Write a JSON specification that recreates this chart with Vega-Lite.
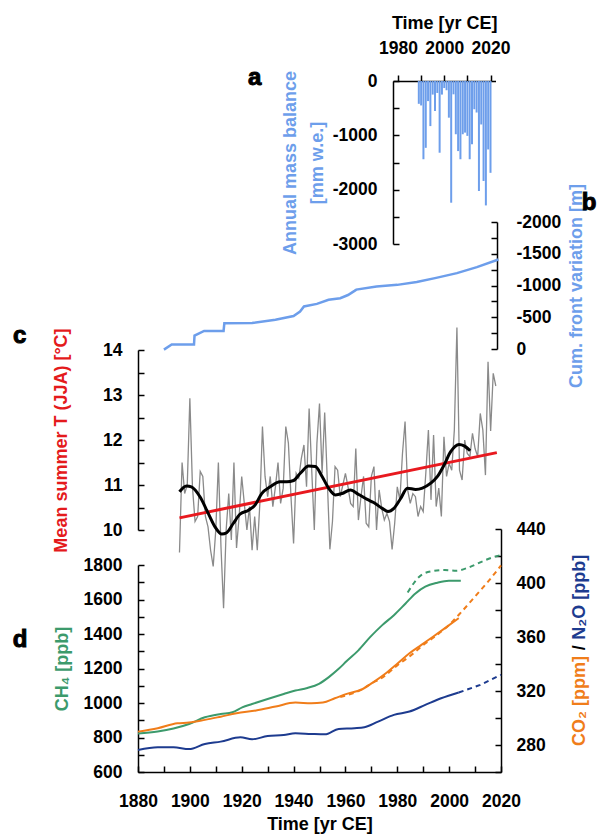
{
  "$schema": "https://vega.github.io/schema/vega-lite/v6.json",
  "width": 363,
  "height": 691,
  "autosize": {"type": "none"},
  "padding": {"left": 138, "top": 81, "right": 115, "bottom": 65},
  "background": "white",
  "config": {
    "view": {"stroke": null},
    "axis": {
      "labelFont": "Liberation Sans", "labelFontWeight": "bold", "labelFontSize": 17.5, "labelColor": "#000",
      "titleFont": "Liberation Sans", "titleFontWeight": "bold", "titleFontSize": 18, "titleColor": "#000",
      "domainColor": "#000", "domainWidth": 1.5, "zindex": 1,
      "grid": false, "labelOverlap": false, "labelFlush": false, "labelBound": false
    },
    "text": {"font": "Liberation Sans", "fontWeight": "bold"}
  },
  "resolve": {"scale": {"x": "independent", "y": "independent"}, "axis": {"x": "independent", "y": "independent"}},
  "layer": [
    {
      "encoding": {
        "x": {"field": "year", "type": "quantitative",
          "scale": {"domain": [1980, 2020], "range": [255, 357.5], "nice": false, "zero": false},
          "axis": {"orient": "top", "title": "Time [yr CE]", "values": [1980, 1990, 2000, 2010, 2020],
            "labelExpr": "datum.value % 20 === 0 ? '' + datum.value : ''",
            "tickSize": 6, "tickColor": "#000", "tickWidth": 1.5, "labelPadding": 18, "titlePadding": 7}},
        "y": {"field": "mb", "type": "quantitative",
          "scale": {"domain": [-3000, 0], "range": [163, 0], "nice": false, "zero": false},
          "axis": {"orient": "left", "offset": -255, "title": ["Annual mass balance", "[mm w.e.]"], "titleColor": "#6d9eeb",
            "titleLineHeight": 27, "values": [-3000, -2500, -2000, -1500, -1000, -500, 0],
            "labelExpr": "datum.value % 1000 === 0 ? (datum.value < 0 ? '-' + (-datum.value) : '0') : ''",
            "tickSize": -6, "tickColor": "#000", "tickWidth": 1.5, "labelPadding": 22, "titlePadding": 6}}
      },
      "layer": [
        {
          "data": {"values": [
            {"year": 1989, "mb": -420}, {"year": 1990, "mb": -450}, {"year": 1991, "mb": -1440}, {"year": 1992, "mb": -1230},
            {"year": 1993, "mb": -370}, {"year": 1994, "mb": -830}, {"year": 1995, "mb": -250}, {"year": 1996, "mb": -550},
            {"year": 1997, "mb": -220}, {"year": 1998, "mb": -1320}, {"year": 1999, "mb": -250}, {"year": 2000, "mb": -130},
            {"year": 2001, "mb": -170}, {"year": 2002, "mb": -675}, {"year": 2003, "mb": -2240}, {"year": 2004, "mb": -245},
            {"year": 2005, "mb": -980}, {"year": 2006, "mb": -1290}, {"year": 2007, "mb": -1440}, {"year": 2008, "mb": -980},
            {"year": 2009, "mb": -950}, {"year": 2010, "mb": -1010}, {"year": 2011, "mb": -1440}, {"year": 2012, "mb": -1165},
            {"year": 2013, "mb": -520}, {"year": 2014, "mb": -580}, {"year": 2015, "mb": -2025}, {"year": 2016, "mb": -800},
            {"year": 2017, "mb": -1840}, {"year": 2018, "mb": -2290}, {"year": 2019, "mb": -1260}, {"year": 2020, "mb": -1690}
          ]},
          "mark": {"type": "bar", "size": 2, "color": "#6d9eeb"},
          "encoding": {"y2": {"datum": 0}}
        },
        {
          "data": {"values": [{"year": 1918, "mb": 55, "lab": "a"}]},
          "mark": {"type": "text", "fontSize": 24, "color": "#000", "stroke": "#000", "strokeWidth": 1, "baseline": "middle", "align": "center"},
          "encoding": {"text": {"field": "lab"}}
        }
      ]
    },
    {
      "encoding": {
        "x": {"field": "year", "type": "quantitative",
          "scale": {"domain": [1880, 2020], "range": [0, 363], "nice": false, "zero": false}, "axis": null},
        "y": {"field": "v", "type": "quantitative",
          "scale": {"domain": [-2000, 0], "range": [141, 268], "nice": false, "zero": false},
          "axis": {"orient": "right", "offset": -4, "title": "Cum. front variation [m]", "titleColor": "#6d9eeb",
            "titleAngle": 270, "titleBaseline": "top",
            "values": [-2000, -1750, -1500, -1250, -1000, -750, -500, -250, 0],
            "labelExpr": "datum.value % 500 === 0 ? (datum.value < 0 ? '-' + (-datum.value) : '0') : ''",
            "tickSize": -6, "tickColor": "#000", "tickWidth": 1.5, "labelPadding": 25, "titlePadding": 7}}
      },
      "layer": [
        {
          "data": {"values": [
            {"year": 1890, "v": 10}, {"year": 1893, "v": -70}, {"year": 1901.6, "v": -70}, {"year": 1901.8, "v": -210},
            {"year": 1905.5, "v": -285}, {"year": 1913, "v": -285}, {"year": 1913.3, "v": -405}, {"year": 1924, "v": -410},
            {"year": 1933, "v": -460}, {"year": 1940, "v": -520}, {"year": 1942.5, "v": -590}, {"year": 1944, "v": -670},
            {"year": 1949, "v": -710}, {"year": 1953.5, "v": -775}, {"year": 1958, "v": -800}, {"year": 1961, "v": -850},
            {"year": 1963.5, "v": -915}, {"year": 1964.2, "v": -935}, {"year": 1972, "v": -985}, {"year": 1980, "v": -1010},
            {"year": 1987.5, "v": -1055}, {"year": 1995, "v": -1120}, {"year": 2003, "v": -1195}, {"year": 2010.7, "v": -1290},
            {"year": 2019, "v": -1410}
          ]},
          "mark": {"type": "line", "color": "#6d9eeb", "strokeWidth": 2.5}
        },
        {
          "data": {"values": [{"year": 2054, "v": -2300, "lab": "b"}]},
          "mark": {"type": "text", "fontSize": 24, "color": "#000", "stroke": "#000", "strokeWidth": 1, "baseline": "middle", "align": "center"},
          "encoding": {"text": {"field": "lab"}}
        }
      ]
    },
    {
      "encoding": {
        "x": {"field": "year", "type": "quantitative",
          "scale": {"domain": [1880, 2020], "range": [0, 363], "nice": false, "zero": false}, "axis": null},
        "y": {"field": "T", "type": "quantitative",
          "scale": {"domain": [10, 14], "range": [449, 269], "nice": false, "zero": false},
          "axis": {"orient": "left", "title": "Mean summer T (JJA) [°C]", "titleColor": "#e41a1c",
            "values": [10, 10.5, 11, 11.5, 12, 12.5, 13, 13.5, 14],
            "labelExpr": "datum.value % 1 === 0 ? '' + datum.value : ''",
            "tickSize": -6, "tickColor": "#000", "tickWidth": 1.5, "labelPadding": 22, "titlePadding": 32}}
      },
      "layer": [
        {
          "data": {"values": [
            {"year": 1896, "T": 9.5}, {"year": 1897, "T": 11.5}, {"year": 1898, "T": 10.81}, {"year": 1899, "T": 11.0},
            {"year": 1900, "T": 12.93}, {"year": 1901, "T": 10.96}, {"year": 1902, "T": 10.19}, {"year": 1903, "T": 10.3},
            {"year": 1904, "T": 11.3}, {"year": 1905, "T": 11.19}, {"year": 1906, "T": 10.3}, {"year": 1907, "T": 10.07},
            {"year": 1908, "T": 9.55}, {"year": 1909, "T": 9.19}, {"year": 1910, "T": 10.0}, {"year": 1911, "T": 11.5},
            {"year": 1912, "T": 9.63}, {"year": 1913, "T": 8.26}, {"year": 1914, "T": 10.0}, {"year": 1915, "T": 10.81},
            {"year": 1916, "T": 9.78}, {"year": 1917, "T": 11.5}, {"year": 1918, "T": 9.6}, {"year": 1919, "T": 10.3},
            {"year": 1920, "T": 11.19}, {"year": 1921, "T": 10.59}, {"year": 1922, "T": 10.0}, {"year": 1923, "T": 10.52},
            {"year": 1924, "T": 9.55}, {"year": 1925, "T": 10.3}, {"year": 1926, "T": 9.55}, {"year": 1927, "T": 10.59},
            {"year": 1928, "T": 12.3}, {"year": 1929, "T": 11.19}, {"year": 1930, "T": 10.74}, {"year": 1931, "T": 11.19},
            {"year": 1932, "T": 10.52}, {"year": 1933, "T": 10.96}, {"year": 1934, "T": 11.5}, {"year": 1935, "T": 10.59},
            {"year": 1936, "T": 10.93}, {"year": 1937, "T": 12.3}, {"year": 1938, "T": 11.93}, {"year": 1939, "T": 10.74},
            {"year": 1940, "T": 9.7}, {"year": 1941, "T": 11.26}, {"year": 1942, "T": 11.15}, {"year": 1943, "T": 11.59},
            {"year": 1944, "T": 11.89}, {"year": 1945, "T": 10.96}, {"year": 1946, "T": 12.7}, {"year": 1947, "T": 11.33},
            {"year": 1948, "T": 10.0}, {"year": 1949, "T": 11.93}, {"year": 1950, "T": 12.81}, {"year": 1951, "T": 11.26},
            {"year": 1952, "T": 12.61}, {"year": 1953, "T": 11.11}, {"year": 1954, "T": 9.57}, {"year": 1955, "T": 10.19},
            {"year": 1956, "T": 11.41}, {"year": 1957, "T": 11.33}, {"year": 1958, "T": 10.74}, {"year": 1959, "T": 11.0},
            {"year": 1960, "T": 11.26}, {"year": 1961, "T": 10.96}, {"year": 1962, "T": 10.59}, {"year": 1963, "T": 10.52},
            {"year": 1964, "T": 11.81}, {"year": 1965, "T": 10.22}, {"year": 1966, "T": 10.74}, {"year": 1967, "T": 11.19},
            {"year": 1968, "T": 10.15}, {"year": 1969, "T": 10.07}, {"year": 1970, "T": 11.19}, {"year": 1971, "T": 11.41},
            {"year": 1972, "T": 10.0}, {"year": 1973, "T": 10.89}, {"year": 1974, "T": 10.48}, {"year": 1975, "T": 10.22},
            {"year": 1976, "T": 10.37}, {"year": 1977, "T": 10.19}, {"year": 1978, "T": 9.57}, {"year": 1979, "T": 10.15},
            {"year": 1980, "T": 10.96}, {"year": 1981, "T": 10.67}, {"year": 1982, "T": 11.7}, {"year": 1983, "T": 12.41},
            {"year": 1984, "T": 10.89}, {"year": 1985, "T": 10.59}, {"year": 1986, "T": 10.81}, {"year": 1987, "T": 10.74},
            {"year": 1988, "T": 10.3}, {"year": 1989, "T": 10.52}, {"year": 1990, "T": 10.41}, {"year": 1991, "T": 11.26},
            {"year": 1992, "T": 12.22}, {"year": 1993, "T": 10.67}, {"year": 1994, "T": 12.11}, {"year": 1995, "T": 10.52},
            {"year": 1996, "T": 10.93}, {"year": 1997, "T": 10.3}, {"year": 1998, "T": 12.07}, {"year": 1999, "T": 11.19},
            {"year": 2000, "T": 11.48}, {"year": 2001, "T": 11.33}, {"year": 2002, "T": 12.22}, {"year": 2003, "T": 14.5},
            {"year": 2004, "T": 11.33}, {"year": 2005, "T": 11.11}, {"year": 2006, "T": 12.0}, {"year": 2007, "T": 11.7},
            {"year": 2008, "T": 11.63}, {"year": 2009, "T": 12.15}, {"year": 2010, "T": 11.81}, {"year": 2011, "T": 11.63},
            {"year": 2012, "T": 12.59}, {"year": 2013, "T": 12.22}, {"year": 2014, "T": 11.22}, {"year": 2015, "T": 13.74},
            {"year": 2016, "T": 12.2}, {"year": 2017, "T": 13.48}, {"year": 2018, "T": 13.2}
          ]},
          "mark": {"type": "line", "color": "#8a8a8a", "strokeWidth": 1.3}
        },
        {
          "data": {"values": [{"year": 1896, "T": 10.27}, {"year": 2018.4, "T": 11.72}]},
          "mark": {"type": "line", "color": "#e8191f", "strokeWidth": 3}
        },
        {
          "data": {"values": [
            {"year": 1896, "T": 10.85}, {"year": 1898.7, "T": 10.98}, {"year": 1900.6, "T": 10.96}, {"year": 1903.9, "T": 10.74},
            {"year": 1907.1, "T": 10.37}, {"year": 1909.7, "T": 10.07}, {"year": 1912.3, "T": 9.91}, {"year": 1914.2, "T": 9.94},
            {"year": 1916.8, "T": 10.15}, {"year": 1919.3, "T": 10.35}, {"year": 1922.6, "T": 10.44}, {"year": 1925.2, "T": 10.56},
            {"year": 1927.7, "T": 10.81}, {"year": 1931, "T": 10.96}, {"year": 1934.8, "T": 11.07}, {"year": 1937.4, "T": 11.07},
            {"year": 1940, "T": 11.1}, {"year": 1942.6, "T": 11.26}, {"year": 1945.8, "T": 11.42}, {"year": 1948.4, "T": 11.41},
            {"year": 1951, "T": 11.19}, {"year": 1953.5, "T": 10.93}, {"year": 1956.1, "T": 10.78}, {"year": 1958.7, "T": 10.81},
            {"year": 1961.9, "T": 10.89}, {"year": 1965.1, "T": 10.79}, {"year": 1968.4, "T": 10.68}, {"year": 1970.9, "T": 10.61},
            {"year": 1974.2, "T": 10.48}, {"year": 1976.4, "T": 10.41}, {"year": 1978.7, "T": 10.48}, {"year": 1981.3, "T": 10.7},
            {"year": 1983.9, "T": 10.93}, {"year": 1987.1, "T": 10.9}, {"year": 1989.7, "T": 10.93}, {"year": 1992.9, "T": 11.04},
            {"year": 1995.5, "T": 11.19}, {"year": 1998, "T": 11.44}, {"year": 2000.6, "T": 11.74}, {"year": 2003.8, "T": 11.9},
            {"year": 2005.8, "T": 11.87}, {"year": 2008.1, "T": 11.76}
          ]},
          "mark": {"type": "line", "color": "#000", "strokeWidth": 3, "interpolate": "monotone"}
        },
        {
          "data": {"values": [{"year": 1834.4, "T": 14.31, "lab": "c"}]},
          "mark": {"type": "text", "fontSize": 24, "color": "#000", "stroke": "#000", "strokeWidth": 1, "baseline": "middle", "align": "center"},
          "encoding": {"text": {"field": "lab"}}
        }
      ]
    },
    {
      "encoding": {
        "x": {"field": "year", "type": "quantitative",
          "scale": {"domain": [1880, 2020], "range": [0, 363], "nice": false, "zero": false},
          "axis": {"orient": "bottom", "title": "Time [yr CE]",
            "values": [1880, 1890, 1900, 1910, 1920, 1930, 1940, 1950, 1960, 1970, 1980, 1990, 2000, 2010, 2020],
            "labelExpr": "datum.value % 20 === 0 ? '' + datum.value : ''",
            "tickSize": -6, "tickColor": "#000", "tickWidth": 1.5, "labelPadding": 26, "titlePadding": 6}},
        "y": {"field": "ch4", "type": "quantitative",
          "scale": {"domain": [600, 1800], "range": [691, 484], "nice": false, "zero": false},
          "axis": {"orient": "left", "title": "CH₄ [ppb]", "titleColor": "#3c9a6c",
            "values": [600, 700, 800, 900, 1000, 1100, 1200, 1300, 1400, 1500, 1600, 1700, 1800],
            "labelExpr": "datum.value % 200 === 0 ? '' + datum.value : ''",
            "tickSize": -6, "tickColor": "#000", "tickWidth": 1.5, "labelPadding": 22, "titlePadding": 12}}
      },
      "layer": [
        {
          "data": {"values": [
            {"year": 1880, "ch4": 823}, {"year": 1887.6, "ch4": 835}, {"year": 1893.7, "ch4": 852}, {"year": 1899.7, "ch4": 878},
            {"year": 1905.8, "ch4": 917}, {"year": 1911.9, "ch4": 936}, {"year": 1916.4, "ch4": 946}, {"year": 1920.2, "ch4": 975},
            {"year": 1924, "ch4": 994}, {"year": 1930, "ch4": 1023}, {"year": 1936.2, "ch4": 1052}, {"year": 1940.7, "ch4": 1072},
            {"year": 1945.3, "ch4": 1087}, {"year": 1949.8, "ch4": 1111}, {"year": 1953.6, "ch4": 1150}, {"year": 1957.4, "ch4": 1198},
            {"year": 1960.5, "ch4": 1243}, {"year": 1965, "ch4": 1305}, {"year": 1969.6, "ch4": 1383}, {"year": 1974.1, "ch4": 1450},
            {"year": 1978.7, "ch4": 1509}, {"year": 1983.2, "ch4": 1577}, {"year": 1987, "ch4": 1635}, {"year": 1990.8, "ch4": 1674},
            {"year": 1995.4, "ch4": 1697}, {"year": 1999.9, "ch4": 1709}, {"year": 2004.5, "ch4": 1709}
          ]},
          "mark": {"type": "line", "color": "#3c9a6c", "strokeWidth": 2, "interpolate": "monotone"}
        },
        {
          "data": {"values": [
            {"year": 1984, "ch4": 1641}, {"year": 1989.1, "ch4": 1740}, {"year": 1993.7, "ch4": 1765}, {"year": 1998.3, "ch4": 1771},
            {"year": 2002.8, "ch4": 1767}, {"year": 2007.4, "ch4": 1785}, {"year": 2012.7, "ch4": 1820}, {"year": 2016.5, "ch4": 1843},
            {"year": 2020, "ch4": 1858}
          ]},
          "mark": {"type": "line", "color": "#3c9a6c", "strokeWidth": 2, "strokeDash": [5, 4], "interpolate": "monotone"}
        },
        {
          "data": {"values": [{"year": 1834.5, "ch4": 1363, "lab": "d"}]},
          "mark": {"type": "text", "fontSize": 24, "color": "#000", "stroke": "#000", "strokeWidth": 1, "baseline": "middle", "align": "center"},
          "encoding": {"text": {"field": "lab"}}
        }
      ]
    },
    {
      "encoding": {
        "x": {"field": "year", "type": "quantitative",
          "scale": {"domain": [1880, 2020], "range": [0, 363], "nice": false, "zero": false}, "axis": null},
        "y": {"field": "v", "type": "quantitative",
          "scale": {"domain": [260, 440], "range": [691, 448], "nice": false, "zero": false},
          "axis": {"orient": "right", "title": null,
            "values": [260, 280, 300, 320, 340, 360, 380, 400, 420, 440],
            "labelExpr": "datum.value % 40 === 0 ? '' + datum.value : ''",
            "tickSize": -6, "tickColor": "#000", "tickWidth": 1.5, "labelPadding": 21}}
      },
      "layer": [
        {
          "data": {"values": [
            {"year": 1880, "v": 289.9}, {"year": 1887.6, "v": 292.4}, {"year": 1895.2, "v": 296.1}, {"year": 1899.7, "v": 296.6},
            {"year": 1905.8, "v": 298.6}, {"year": 1911.9, "v": 301.0}, {"year": 1918, "v": 303.5}, {"year": 1925.5, "v": 305.5},
            {"year": 1933.1, "v": 308.5}, {"year": 1940.7, "v": 311.4}, {"year": 1946.8, "v": 310.9}, {"year": 1951.3, "v": 311.4},
            {"year": 1955.9, "v": 314.6}, {"year": 1960.5, "v": 317.9}, {"year": 1966.5, "v": 321.3}, {"year": 1971.1, "v": 327.0},
            {"year": 1975.6, "v": 333.2}, {"year": 1980.2, "v": 340.6}, {"year": 1984.7, "v": 348.0}, {"year": 1989.3, "v": 354.2},
            {"year": 1993.9, "v": 360.4}, {"year": 1998.4, "v": 366.6}, {"year": 2003.7, "v": 374.0}
          ]},
          "mark": {"type": "line", "color": "#f07d1a", "strokeWidth": 2, "interpolate": "monotone"}
        },
        {
          "data": {"values": [
            {"year": 1958, "v": 315.5}, {"year": 1965, "v": 320}, {"year": 1970, "v": 325.5}, {"year": 1975, "v": 331},
            {"year": 1980, "v": 339}, {"year": 1985, "v": 346}, {"year": 1990, "v": 354}, {"year": 1995, "v": 361},
            {"year": 2000, "v": 369}, {"year": 2004, "v": 377}, {"year": 2010, "v": 390}, {"year": 2015, "v": 401},
            {"year": 2020, "v": 413}
          ]},
          "mark": {"type": "line", "color": "#f07d1a", "strokeWidth": 2, "strokeDash": [5, 4], "interpolate": "monotone"}
        },
        {
          "data": {"values": [
            {"year": 1880, "v": 276.3}, {"year": 1887.6, "v": 278.3}, {"year": 1893.7, "v": 278.3}, {"year": 1899.7, "v": 277.0},
            {"year": 1905.8, "v": 280.8}, {"year": 1911.9, "v": 282.5}, {"year": 1919.5, "v": 285.7}, {"year": 1924, "v": 284.2},
            {"year": 1930, "v": 286.7}, {"year": 1936.2, "v": 287.4}, {"year": 1940.7, "v": 288.7}, {"year": 1946.8, "v": 288.2},
            {"year": 1952.1, "v": 287.9}, {"year": 1957.4, "v": 291.9}, {"year": 1963.5, "v": 292.4}, {"year": 1967.3, "v": 293.1},
            {"year": 1972.6, "v": 297.3}, {"year": 1978.7, "v": 302.3}, {"year": 1984.7, "v": 304.8}, {"year": 1990.8, "v": 309.7},
            {"year": 1996.9, "v": 314.6}, {"year": 2003.7, "v": 318.9}
          ]},
          "mark": {"type": "line", "color": "#1d3b8f", "strokeWidth": 2, "interpolate": "monotone"}
        },
        {
          "data": {"values": [{"year": 2003.7, "v": 318.9}, {"year": 2012, "v": 324.5}, {"year": 2020, "v": 332}]},
          "mark": {"type": "line", "color": "#1d3b8f", "strokeWidth": 2, "strokeDash": [5, 4]}
        },
        {
          "data": {"values": [{"year": 2050.5, "v": 346, "t": "CO₂ [ppm]"}]},
          "mark": {"type": "text", "angle": 270, "align": "right", "baseline": "middle", "fontSize": 18, "color": "#f07d1a"},
          "encoding": {"text": {"field": "t"}}
        },
        {
          "data": {"values": [{"year": 2050.5, "v": 352, "t": "/"}]},
          "mark": {"type": "text", "angle": 270, "align": "center", "baseline": "middle", "fontSize": 18, "color": "#000"},
          "encoding": {"text": {"field": "t"}}
        },
        {
          "data": {"values": [{"year": 2050.5, "v": 358, "t": "N₂O [ppb]"}]},
          "mark": {"type": "text", "angle": 270, "align": "left", "baseline": "middle", "fontSize": 18, "color": "#1d3b8f"},
          "encoding": {"text": {"field": "t"}}
        }
      ]
    }
  ]
}
